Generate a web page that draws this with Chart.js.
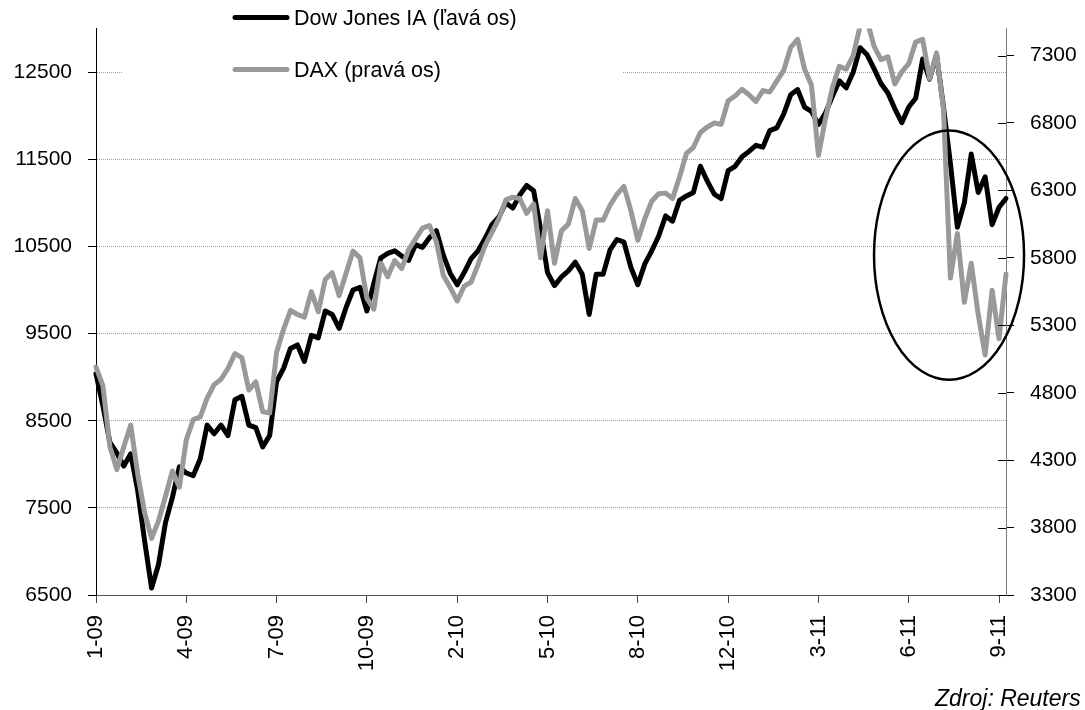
<!DOCTYPE html>
<html lang="sk">
<head>
<meta charset="utf-8">
<title>Dow Jones IA a DAX</title>
<script src="https://cdn.jsdelivr.net/npm/chart.js@4/dist/chart.umd.min.js"></script>
<style>
html, body { margin: 0; padding: 0; background: #fff; }
#wrap { position: relative; width: 1085px; height: 710px; overflow: hidden; }
</style>
</head>
<body>
<div id="wrap"><canvas id="chart" width="1085" height="710"></canvas></div>
<script>
'use strict';

// os x: jeden bod = 5 obchodnych dni, popisky kazdych 65 dni
const STEP = 5;
const X_MAX = 655;
const tickDays = [0, 65, 130, 195, 260, 325, 390, 455, 520, 585, 650];
const tickLabels = ['1-09', '4-09', '7-09', '10-09', '2-10', '5-10',
    '8-10', '12-10', '3-11', '6-11', '9-11'];

const leftTicks = [6500, 7500, 8500, 9500, 10500, 11500, 12500];
const rightTicks = [3300, 3800, 4300, 4800, 5300, 5800, 6300, 6800, 7300];

const dowJones = [
    9040, 8670, 8250, 8130, 7980, 8120, 7700, 7120, 6580, 6850,
    7330, 7620, 7970, 7900, 7870, 8060, 8450, 8350, 8450, 8330,
    8740, 8780, 8450, 8420, 8200, 8330, 8950, 9100, 9330, 9370,
    9180, 9480, 9450, 9760, 9720, 9560, 9800, 10000, 10030, 9760,
    10080, 10370, 10420, 10450, 10390, 10340, 10520, 10490, 10600, 10680,
    10400, 10190, 10060, 10200, 10360, 10450, 10590, 10750, 10840, 11000,
    10940, 11090, 11200, 11140, 10700, 10200, 10050, 10150, 10220, 10320,
    10180, 9720, 10180, 10180, 10460, 10580, 10550, 10260, 10060, 10300,
    10450, 10620, 10850, 10790, 11030, 11080, 11120, 11420, 11250, 11100,
    11050, 11370, 11420, 11530, 11590, 11660, 11640, 11830, 11860, 12020,
    12240, 12300, 12100, 12050, 11900, 12030, 12220, 12400, 12320, 12500,
    12780, 12700, 12540, 12370, 12260, 12080, 11920, 12100, 12200, 12650,
    12420, 12700, 12100, 11450, 10720, 11000, 11560, 11120, 11300, 10750,
    10950, 11050,
];

const dax = [
    4990, 4850, 4400, 4230, 4400, 4560, 4200, 3910, 3720, 3850,
    4030, 4220, 4100, 4450, 4600, 4620, 4760, 4860, 4900, 4980,
    5090, 5060, 4820, 4880, 4660, 4650, 5100, 5270, 5410, 5380,
    5360, 5550, 5400, 5640, 5690, 5520, 5685, 5850, 5800, 5500,
    5420, 5760, 5660, 5780, 5720, 5860, 5940, 6020, 6040, 5920,
    5670, 5580, 5480, 5590, 5620, 5750, 5890, 5990, 6090, 6230,
    6250, 6240, 6130, 6200, 5800, 6150, 5760, 6000, 6050, 6240,
    6150, 5870, 6080, 6080, 6190, 6270, 6330, 6150, 5930, 6090,
    6220, 6275, 6280, 6240, 6400, 6575, 6620, 6730, 6770, 6800,
    6790, 6965, 7000, 7050, 7010, 6960, 7040, 7030, 7110, 7190,
    7360, 7420, 7200, 7080, 6560, 6830, 7060, 7220, 7200, 7300,
    7520, 7560, 7370, 7270, 7290, 7090, 7180, 7240, 7400, 7420,
    7130, 7320, 6900, 5650, 5980, 5470, 5760, 5380, 5080, 5560,
    5200, 5680,
];

// zvyraznena oblast (elipsa) v jednotkach osi: den a hodnota DJ
const highlight = { x: 614, y: 10400, rx: 54, ry: 1430 };

const legendItems = [
    { label: 'Dow Jones IA (ľavá os)', color: '#000000' },
    { label: 'DAX (pravá os)', color: '#999999' },
];

const FAMILY = '"Liberation Sans", Arial, sans-serif';

function
toPoints(values)
{
    return values.map((v, i) => ({ x: i * STEP, y: v }));
}

// legenda vlavo hore na bielom podklade
const legendPlugin = {
    id: 'boxLegend',
    beforeDatasetsDraw(chart) {
        const ctx = chart.ctx;
        ctx.save();
        ctx.fillStyle = '#ffffff';
        ctx.fillRect(123, chart.chartArea.top, 500, 80);
        ctx.font = `21.5px ${FAMILY}`;
        ctx.textBaseline = 'alphabetic';
        ctx.textAlign = 'left';
        legendItems.forEach((item, i) => {
            const y = 17.5 + i * 52;
            ctx.beginPath();
            ctx.moveTo(235, y);
            ctx.lineTo(287, y);
            ctx.lineWidth = 5;
            ctx.lineCap = 'round';
            ctx.strokeStyle = item.color;
            ctx.stroke();
            ctx.fillStyle = '#000';
            ctx.fillText(item.label, 294, y + 7.8);
        });
        ctx.restore();
    },
};

// elipsa, vnutorne ciarky pravej osi a zdroj
const extrasPlugin = {
    id: 'extras',
    afterDatasetsDraw(chart) {
        const { ctx, chartArea } = chart;
        const xs = chart.scales.x;
        const ys = chart.scales.y;
        const ys2 = chart.scales.y2;

        ctx.save();
        ctx.strokeStyle = '#000';
        ctx.lineWidth = 1;
        rightTicks.forEach(v => {
            const py = Math.round(ys2.getPixelForValue(v)) + 0.5;
            ctx.beginPath();
            ctx.moveTo(chartArea.right - 8, py);
            ctx.lineTo(chartArea.right, py);
            ctx.stroke();
        });

        const cx = xs.getPixelForValue(highlight.x);
        const cy = ys.getPixelForValue(highlight.y);
        const rx = Math.abs(xs.getPixelForValue(highlight.x + highlight.rx) - cx);
        const ry = Math.abs(ys.getPixelForValue(highlight.y + highlight.ry) - cy);
        ctx.beginPath();
        ctx.ellipse(cx, cy, rx, ry, 0, 0, Math.PI * 2);
        ctx.lineWidth = 2.5;
        ctx.stroke();

        ctx.font = `italic 23px ${FAMILY}`;
        ctx.fillStyle = '#000';
        ctx.textAlign = 'left';
        ctx.textBaseline = 'alphabetic';
        ctx.fillText('Zdroj: Reuters', 935, 706);
        ctx.restore();
    },
};

function
drawChart(canvas)
{
    const lineStyle = {
        borderWidth: 5,
        pointRadius: 0,
        tension: 0,
        borderJoinStyle: 'round',
        borderCapStyle: 'round',
        clip: { left: 5, top: 0, right: 5, bottom: 5 },
    };
    const plain = v => String(v);
    return new Chart(canvas, {
        type: 'line',
        data: {
            datasets: [
                Object.assign({
                    label: legendItems[0].label,
                    data: toPoints(dowJones),
                    yAxisID: 'y',
                    borderColor: legendItems[0].color,
                    order: 2,
                }, lineStyle),
                Object.assign({
                    label: legendItems[1].label,
                    data: toPoints(dax),
                    yAxisID: 'y2',
                    borderColor: legendItems[1].color,
                    order: 1,
                }, lineStyle),
            ],
        },
        options: {
            responsive: false,
            devicePixelRatio: 1,
            animation: false,
            layout: { padding: { top: 11, left: 0, right: 0, bottom: 0 } },
            plugins: {
                legend: { display: false },
                tooltip: { enabled: false },
            },
            scales: {
                x: {
                    type: 'linear',
                    min: 0,
                    max: X_MAX,
                    afterBuildTicks: s => { s.ticks = tickDays.map(v => ({ value: v })); },
                    afterFit: s => { s.height = 115; },
                    grid: {
                        drawOnChartArea: false,
                        tickLength: 8,
                        tickColor: '#444',
                    },
                    border: { color: '#555', width: 1 },
                    ticks: {
                        autoSkip: false,
                        minRotation: 90,
                        maxRotation: 90,
                        padding: 12,
                        color: '#000',
                        font: { family: FAMILY, size: 22 },
                        callback: (v, i) => tickLabels[i],
                    },
                },
                y: {
                    position: 'left',
                    min: 6500,
                    max: 13000,
                    afterBuildTicks: s => { s.ticks = leftTicks.map(v => ({ value: v })); },
                    afterFit: s => { s.width = 96; },
                    grid: {
                        color: c => (c.tick && c.tick.value === 6500) ? 'rgba(0,0,0,0)' : '#a0a0a0',
                        lineWidth: 1,
                        tickLength: 8,
                        tickColor: '#000',
                    },
                    border: { color: '#000', width: 1, dash: [1, 1] },
                    ticks: { padding: 16, color: '#000', font: { family: FAMILY, size: 21 }, callback: plain },
                },
                y2: {
                    position: 'right',
                    min: 3300,
                    max: 7500,
                    afterBuildTicks: s => { s.ticks = rightTicks.map(v => ({ value: v })); },
                    afterFit: s => { s.width = 79; },
                    grid: {
                        drawOnChartArea: false,
                        tickLength: 8,
                        tickColor: '#000',
                    },
                    border: { color: '#7a7a7a', width: 1 },
                    ticks: { padding: 16, color: '#000', font: { family: FAMILY, size: 21 }, callback: plain },
                },
            },
        },
        plugins: [legendPlugin, extrasPlugin],
    });
}

drawChart(document.getElementById('chart'));
/* ex: se et ts=4 : */
</script>
</body>
</html>
